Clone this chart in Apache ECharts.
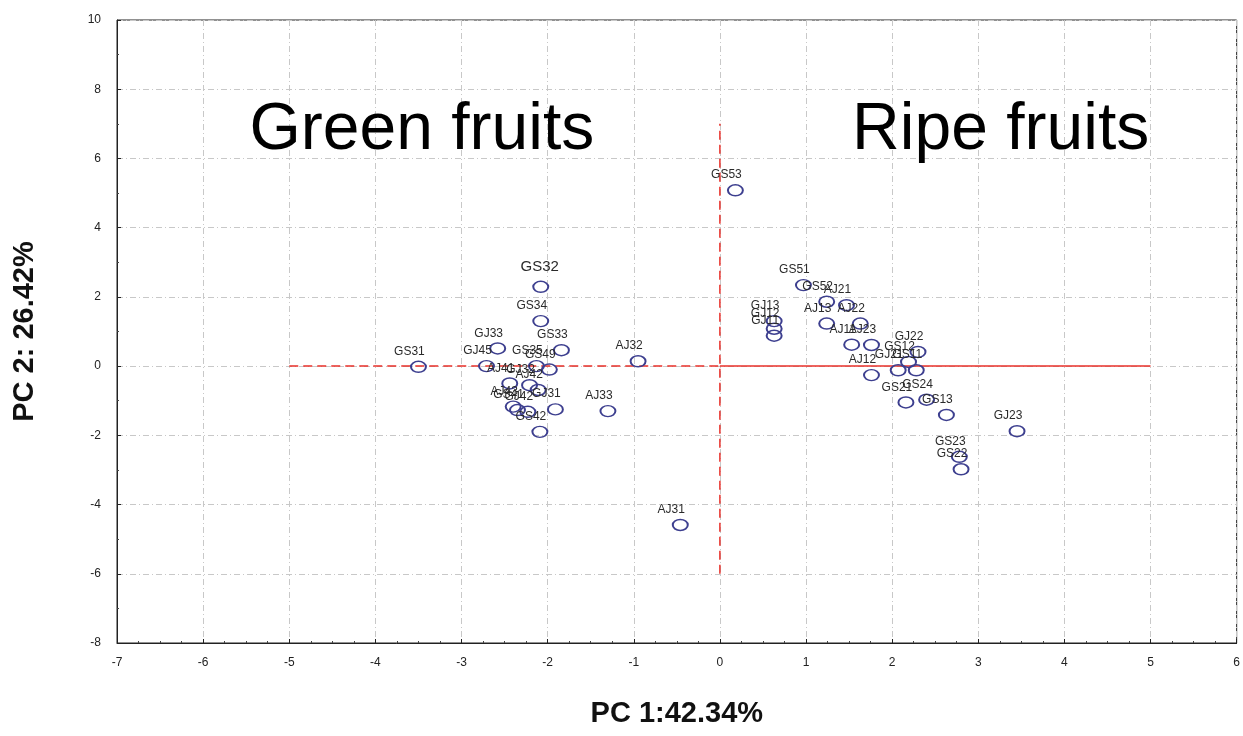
<!DOCTYPE html>
<html>
<head>
<meta charset="utf-8">
<script src="https://cdn.jsdelivr.net/npm/echarts@6/dist/echarts.min.js"></script>
<style>html,body{margin:0;padding:0;background:#fff}#c{width:1243px;height:736px}</style>
</head>
<body>
<div id="c"></div>
<script>
var names = ['GS31','GJ45','GJ33','GS32','GS34','GS33','GS35','GS49','AJ41','GJ32','AJ42','AJ43','GS41','GJ42','GJ31','GS42','AJ33','AJ32','AJ31',
             'GS53','GS51','GS52','AJ21','AJ13','AJ22','GJ13','GJ12','GJ11','AJ11','AJ23','GJ22','GS12','GJ21','GS11','AJ12','GS21','GS24','GS13','GS23','GS22','GJ23'];
var pc1 = [-3.50,-2.71,-2.58,-2.08,-2.08,-1.84,-2.13,-1.98,-2.44,-2.21,-2.11,-2.40,-2.35,-2.23,-1.91,-2.09,-1.30,-0.95,-0.46,
           0.18,0.97,1.24,1.47,1.24,1.63,0.63,0.63,0.63,1.53,1.76,2.30,2.19,2.07,2.28,1.76,2.16,2.40,2.63,2.78,2.80,3.45];
var pc2 = [-0.02,0.00,0.51,2.29,1.30,0.46,0.00,-0.10,-0.50,-0.55,-0.69,-1.17,-1.27,-1.32,-1.25,-1.90,-1.30,0.14,-4.59,
           5.08,2.34,1.86,1.76,1.23,1.23,1.30,1.08,0.88,0.62,0.61,0.41,0.12,-0.12,-0.12,-0.26,-1.05,-0.97,-1.41,-2.62,-2.98,-1.88];
var bigLabels = ['GS32'];
var xTicks = {min:-7, max:6, interval:1};
var yTicks = {min:-8, max:10, interval:2};
var hLineDashed = [[-5,0],[0,0]];
var hLineSolid = [[0,0],[5,0]];
var vLineDashed = [[0,-6],[0,7]];
var groupTitles = ['Green fruits','Ripe fruits'];
var groupTitlePos = [[-3.46,6.81],[3.26,6.81]];

var ptData = names.map(function(n,i){
  var d = {name:n, value:[pc1[i],pc2[i]]};
  if (bigLabels.indexOf(n) >= 0) d.label = {fontSize:15, offset:[-1,-3]};
  return d;
});
var ellipse = 'path://M0,5 A7,5 0 1,1 14,5 A7,5 0 1,1 0,5 Z';
var red = '#e8302a';
var chart = echarts.init(document.getElementById('c'), null, {renderer:'canvas'});
chart.setOption({
  animation:false,
  backgroundColor:'#fff',
  grid:{left:117, right:3, top:20, bottom:93, show:true, borderColor:'#222', borderWidth:1, backgroundColor:'transparent'},
  xAxis:{type:'value', min:xTicks.min, max:xTicks.max, interval:xTicks.interval,
    name:'PC 1:42.34%', nameLocation:'middle', nameGap:56,
    nameTextStyle:{fontFamily:'Liberation Sans', fontWeight:'bold', fontSize:29, color:'#111'},
    axisLine:{onZero:false, lineStyle:{color:'#222'}}, axisTick:{inside:true, length:4, lineStyle:{color:'#222'}},
    minorTick:{show:true, splitNumber:4, length:2, lineStyle:{color:'#444'}},
    axisLabel:{fontFamily:'Liberation Sans', fontSize:12, color:'#222', margin:14},
    splitLine:{show:true, lineStyle:{color:'#c8c8c8', type:[6,3,1,3]}}},
  yAxis:{type:'value', min:yTicks.min, max:yTicks.max, interval:yTicks.interval,
    name:'PC 2: 26.42%', nameLocation:'middle', nameGap:78, nameRotate:90,
    nameTextStyle:{fontFamily:'Liberation Sans', fontWeight:'bold', fontSize:29, color:'#111'},
    axisLine:{onZero:false, lineStyle:{color:'#222'}}, axisTick:{inside:true, length:4, lineStyle:{color:'#222'}},
    minorTick:{show:true, splitNumber:2, length:2, lineStyle:{color:'#444'}},
    axisLabel:{fontFamily:'Liberation Sans', fontSize:12, color:'#222', margin:16},
    splitLine:{show:true, lineStyle:{color:'#c8c8c8', type:[6,3,1,3]}}},
  series:[
    {type:'line', data:hLineDashed, symbol:'none', silent:true, lineStyle:{color:red, width:1.5, type:[9,5]}, z:1},
    {type:'line', data:hLineSolid, symbol:'none', silent:true, lineStyle:{color:red, width:1.5}, z:1},
    {type:'line', data:vLineDashed, symbol:'none', silent:true, lineStyle:{color:red, width:1.5, type:[9,5]}, z:1},
    {type:'scatter', data:groupTitlePos.map(function(p,i){return {name:groupTitles[i], value:p};}),
      symbolSize:0, silent:true, itemStyle:{opacity:1},
      label:{show:true, position:'inside', formatter:'{b}', fontFamily:'Liberation Sans', fontSize:66, color:'#000', textBorderWidth:0}},
    {type:'scatter', data:ptData, symbol:ellipse, symbolSize:[15,11], z:3,
      itemStyle:{opacity:1, color:'rgba(0,0,0,0)', borderColor:'#3d3f8f', borderWidth:1.7},
      label:{show:true, position:'top', distance:3, offset:[-9,0], formatter:'{b}',
        fontFamily:'Liberation Sans', fontSize:12, color:'#2a2a2a'}}
  ]
});
</script>
</body>
</html>
